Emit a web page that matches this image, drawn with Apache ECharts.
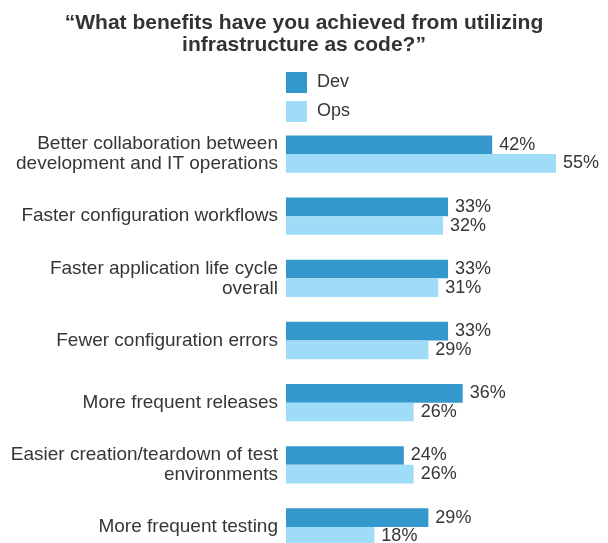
<!DOCTYPE html>
<html>
<head>
<meta charset="utf-8">
<script src="https://cdn.jsdelivr.net/npm/echarts@6/dist/echarts.min.js"></script>
<style>
  html, body { margin: 0; padding: 0; background: #fff; }
  #chart-root { width: 608px; height: 543px; }
</style>
</head>
<body>
<div id="chart-root"></div>
<script>
const categories = [
  'Better collaboration between\ndevelopment and IT operations',
  'Faster configuration workflows',
  'Faster application life cycle\noverall',
  'Fewer configuration errors',
  'More frequent releases',
  'Easier creation/teardown of test\nenvironments',
  'More frequent testing'
];
const devValues = [42, 33, 33, 33, 36, 24, 29];
const opsValues = [55, 32, 31, 29, 26, 26, 18];

(function () {
  const root = document.getElementById('chart-root');
  const chart = echarts.init(root);
  const font = '"Liberation Sans", Arial, sans-serif';
  const textColor = '#363636';

  function barSeries(name, values, color) {
    return {
      name: name,
      type: 'bar',
      data: values,
      barGap: '0%',
      barCategoryGap: '40%',
      itemStyle: { color: color },
      label: {
        show: true,
        position: 'right',
        distance: 7,
        formatter: '{c}%',
        fontSize: 18,
        fontFamily: font,
        color: textColor
      }
    };
  }

  chart.setOption({
    animation: false,
    title: {
      text: '\u201cWhat benefits have you achieved from utilizing\ninfrastructure as code?\u201d',
      left: 'center',
      top: 7,
      textStyle: {
        fontSize: 21,
        fontWeight: 'bold',
        fontFamily: font,
        color: '#333',
        lineHeight: 22
      }
    },
    legend: {
      orient: 'vertical',
      left: 286,
      top: 72,
      padding: 0,
      itemWidth: 21,
      itemHeight: 21,
      itemGap: 8,
      icon: 'rect',
      textStyle: { fontSize: 18, fontFamily: font, color: textColor, padding: [0, 0, 0, 5] },
      data: ['Dev', 'Ops']
    },
    grid: { left: 286, top: 123, width: 270, height: 435, outerBoundsMode: 'none' },
    xAxis: {
      type: 'value',
      min: 0,
      max: 55,
      show: false,
      splitLine: { show: false }
    },
    yAxis: {
      type: 'category',
      inverse: true,
      data: categories,
      axisLine: { show: false },
      axisTick: { show: false },
      axisLabel: {
        margin: 8,
        fontSize: 19,
        lineHeight: 20,
        fontFamily: font,
        color: textColor,
        align: 'right'
      }
    },
    series: [
      barSeries('Dev', devValues, '#3598cc'),
      barSeries('Ops', opsValues, '#9edcf7')
    ]
  });
  window.addEventListener('resize', function () { chart.resize(); });
}());
</script>
</body>
</html>
